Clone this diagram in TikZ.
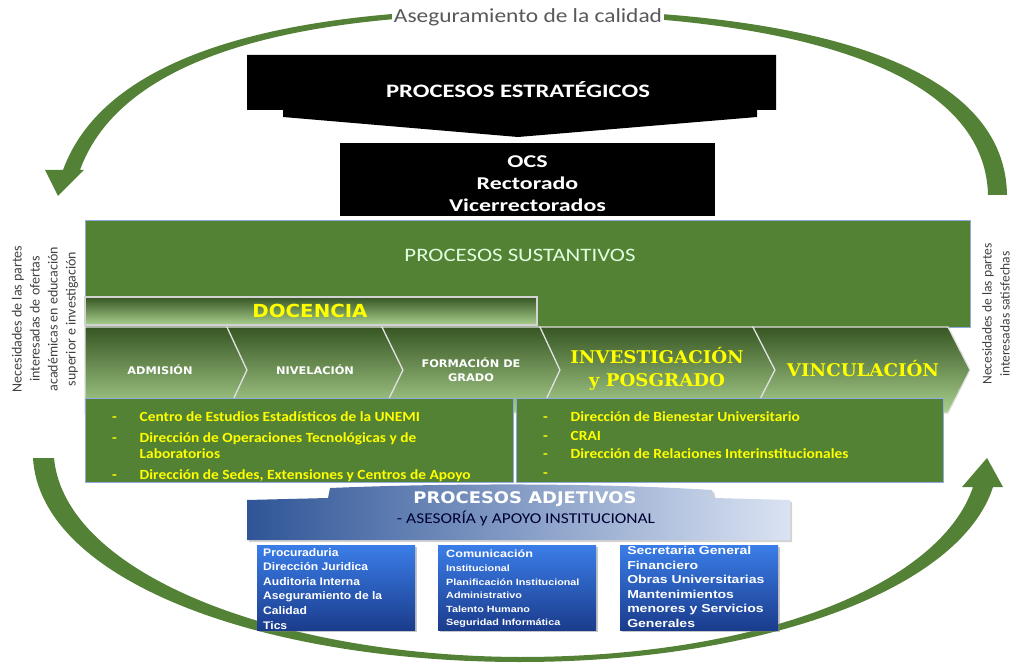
\documentclass[tikz,border=0pt]{standalone}
\usepackage{fontspec}
\setmainfont{Carlito}
\newfontfamily\verd{DejaVu Sans}
\newfontfamily\serifb{DejaVu Serif}
\newfontfamily\arial{Liberation Sans}
\usetikzlibrary{shadows}
\definecolor{arcgreen}{HTML}{538135}
\definecolor{boxgreen}{HTML}{548235}
\definecolor{dkgreen}{HTML}{375623}
\definecolor{ltgreen}{HTML}{A9D08E}
\definecolor{ytext}{HTML}{FFFF00}
\definecolor{bluetop}{HTML}{3A7DE8}
\definecolor{bluebot}{HTML}{1B3C8C}
\definecolor{adjL}{HTML}{2F5597}
\definecolor{adjR}{HTML}{DAE3F3}
\definecolor{sidegray}{HTML}{404040}
\definecolor{boxedge}{HTML}{8FAADC}
\begin{document}
\begin{tikzpicture}[x=1pt,y=-1pt,
  chevlabel/.style={text=white, font=\verd\bfseries\fontsize{10.5}{14}\selectfont, align=center, xscale=1.08},
  bigyellow/.style={text=ytext, font=\serifb\bfseries\fontsize{17.5}{23}\selectfont, align=center, xscale=1.04},
  chev/.style={top color=dkgreen, bottom color=ltgreen, draw=gray!25, line width=1.2pt},
  greenbox/.style={fill=boxgreen, draw=boxedge, line width=0.8pt, anchor=north west, inner sep=0pt},
  bullettxt/.style={anchor=north west, inner sep=0pt, text=ytext, font=\bfseries\fontsize{14}{16.5}\selectfont, xscale=1.1},
  bluebox/.style={top color=bluetop, bottom color=bluebot, draw=none, anchor=north west, inner sep=0pt,
     minimum width=158pt, minimum height=85pt, drop shadow={opacity=0.45, shadow xshift=2pt, shadow yshift=-2pt}},
  bluetxt/.style={anchor=north west, inner sep=0pt, text=white, align=left},
  sidetxt/.style={rotate=90, align=center, text=sidegray, font=\fontsize{14}{18}\selectfont}
]
\useasboundingbox (0,0) rectangle (1015,668);

% top arc with arrowhead at left
\fill[arcgreen] (45,170) -- (63,170) .. controls (105,55) and (280,9) .. (520,9)
  .. controls (800,9) and (1005,60) .. (1007,195) -- (988,195)
  .. controls (985,68) and (790,14) .. (520,14)
  .. controls (285,14) and (120,60) .. (80,170) -- (84,170) -- (58,196) -- cycle;
% bottom arc with arrowhead at right
\fill[arcgreen] (33,458) -- (54,458) .. controls (65,575) and (280,656) .. (520,657)
  .. controls (760,657) and (940,585) .. (973,487) -- (962,487) -- (987,458) -- (1003,487) -- (993,487)
  .. controls (960,590) and (760,662) .. (520,662)
  .. controls (260,662) and (40,580) .. (33,458) -- cycle;

\node[fill=white, inner sep=1.5pt, text=black!65, font=\fontsize{20}{22}\selectfont, xscale=1.17] (qa) at (528,17) {Aseguramiento de la calidad};

% strategic
\fill[black] (247,55) -- (776,55) -- (776,110) -- (757,110) -- (757,117) -- (518,137) -- (283,117) -- (283,110) -- (247,110) -- cycle;
\node[text=white, font=\bfseries\fontsize{19}{22}\selectfont, xscale=1.3] (est) at (518,90) {PROCESOS ESTRATÉGICOS};
\node[fill=black, minimum width=375pt, minimum height=73pt, inner sep=0pt] (ocs) at (527.5,179.5) {};
\node[text=white, font=\bfseries\fontsize{18}{22}\selectfont, align=center, xscale=1.33] (ocst) at (527.5,184) {OCS\\Rectorado\\Vicerrectorados};

% sustantivos
\node[greenbox, minimum width=885pt, minimum height=107pt] (sus) at (85,220) {};
\node[text=white!88!green, font=\fontsize{19}{22}\selectfont, xscale=1.2] (sustit) at (520,255) {PROCESOS SUSTANTIVOS};

% docencia
\draw[top color=dkgreen, bottom color=ltgreen, draw=gray!35, line width=1.5pt] (85,297) rectangle (537,325);
\node[text=ytext, font=\verd\bfseries\fontsize{18}{20}\selectfont, xscale=1.1] (doc) at (310,311) {DOCENCIA};

% chevrons
\path[chev] (85,327) -- (227,327) -- (247,370) -- (227,413) -- (85,413) -- cycle;
\path[chev] (227,327) -- (382,327) -- (403,370) -- (382,413) -- (227,413) -- (247,370) -- cycle;
\path[chev] (382,327) -- (540,327) -- (560,370) -- (540,413) -- (382,413) -- (403,370) -- cycle;
\path[chev] (540,327) -- (753,327) -- (775,370) -- (753,413) -- (540,413) -- (560,370) -- cycle;
\path[chev] (753,327) -- (948,327) -- (970,370) -- (948,413) -- (753,413) -- (775,370) -- cycle;
\node[chevlabel] (adm) at (160,370) {ADMISIÓN};
\node[chevlabel] (niv) at (315,370) {NIVELACIÓN};
\node[chevlabel] (for) at (471,370) {FORMACIÓN DE\\GRADO};
\node[bigyellow] (inv) at (657,369) {INVESTIGACIÓN\\y POSGRADO};
\node[bigyellow] (vin) at (863,369) {VINCULACIÓN};

% lower green boxes
\node[greenbox, minimum width=428pt, minimum height=84pt] (lbox) at (85,398) {};
\node[greenbox, minimum width=427pt, minimum height=84pt] (rbox) at (516,398) {};
\node[bullettxt] (ltxt) at (112,410) {\begin{tabular}{@{}p{25pt}@{}l@{}}
- & Centro de Estudios Estadísticos de la UNEMI\\[4pt]
- & Dirección de Operaciones Tecnológicas y de\\
  & Laboratorios\\[4pt]
- & Dirección de Sedes, Extensiones y Centros de Apoyo
\end{tabular}};
\node[bullettxt] (rtxt) at (543,410) {\begin{tabular}{@{}p{25pt}@{}l@{}}
- & Dirección de Bienestar Universitario\\[2pt]
- & CRAI\\[2pt]
- & Dirección de Relaciones Interinstitucionales\\[2pt]
- &
\end{tabular}};

% adjetivos
\path[left color=adjL, right color=adjR, drop shadow={opacity=0.35, shadow xshift=2pt, shadow yshift=-2pt}]
  (247,540) -- (247,500) -- (328,498) -- (330,488) .. controls (450,483) and (600,483) .. (712,490)
  -- (714,498) -- (790,500) -- (790,540) -- cycle;
\node[text=white, font=\verd\bfseries\fontsize{16}{18}\selectfont, xscale=1.12] (adj) at (525,499) {PROCESOS ADJETIVOS};
\node[text=black!80!blue, font=\fontsize{15}{17}\selectfont, xscale=1.16] (adjsub) at (526,518) {- ASESORÍA y APOYO INSTITUCIONAL};

% blue boxes
\node[bluebox] (b1) at (257,545) {};
\node[bluebox] (b2) at (438,545) {};
\node[bluebox] (b3) at (620,545) {};
\node[bluetxt, font=\arial\bfseries\fontsize{11}{14.6}\selectfont, xscale=1.1] (b1t) at (263,548) {Procuraduria\\Dirección Juridica\\Auditoria Interna\\Aseguramiento de la\\Calidad\\Tics};
\node[bluetxt, font=\arial\bfseries\fontsize{9}{13.6}\selectfont, xscale=1.2] (b2t) at (446,550) {{\fontsize{10.5}{13.6}\selectfont Comunicación}\\Institucional\\Planificación Institucional\\Administrativo\\Talento Humano\\Seguridad Informática};
\node[bluetxt, font=\arial\bfseries\fontsize{11.5}{14.6}\selectfont, xscale=1.22] (b3t) at (627,546) {Secretaria General\\Financiero\\Obras Universitarias\\Mantenimientos\\menores y Servicios\\Generales};

% side texts
\node[sidetxt] (lneed) at (45,319) {Necesidades de las partes\\interesadas de ofertas\\académicas en educación\\superior e investigación};
\node[sidetxt, font=\fontsize{13.5}{18}\selectfont] (rneed) at (996,314) {Necesidades de las partes\\interesadas satisfechas};
\end{tikzpicture}
\end{document}
